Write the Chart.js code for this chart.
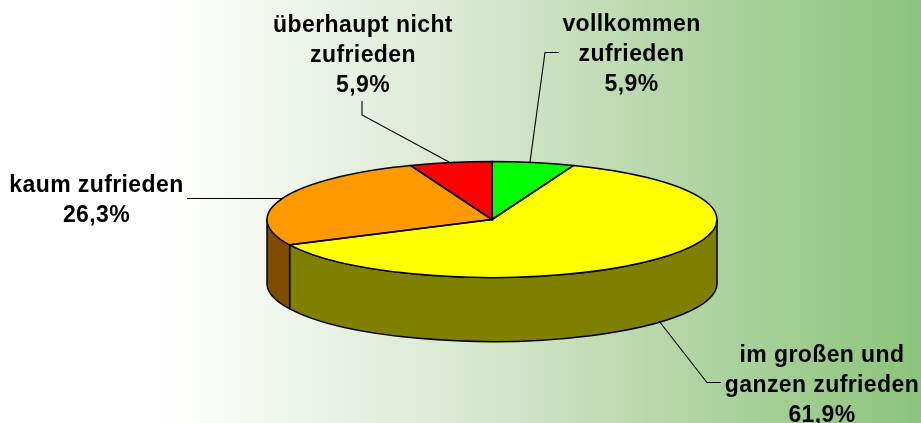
<!DOCTYPE html>
<html lang="de">
<head>
    <meta charset="UTF-8">
    <title>Zufriedenheit</title>
    <script src="https://cdn.jsdelivr.net/npm/chart.js"></script>
    <style>
        html, body { margin: 0; padding: 0; }
        body {
            width: 921px;
            height: 423px;
            overflow: hidden;
            background: linear-gradient(90deg, #ffffff 0, #ffffff 160px, #d6e7ce 480px, #afd4a2 700px, #8cc47c 921px);
        }
        canvas { display: block; }
    </style>
</head>
<body>
    <canvas id="myChart" width="921" height="423"></canvas>

    <script>
        var categories = ['vollkommen zufrieden', 'im großen und ganzen zufrieden', 'kaum zufrieden', 'überhaupt nicht zufrieden'];
        var shares = [5.9, 61.9, 26.3, 5.9];

        var topColors = ['#00ff00', '#ffff00', '#ff9900', '#ff0000'];
        var wallColors = ['#008000', '#808000', '#804d00', '#800000'];

        var FONT = 'bold 23px "Liberation Sans", Arial, sans-serif';
        var TILT = 58 / 225; // height of the ellipse against its width
        var DEPTH = 64;

        // text lines and leader lines, in the same order as categories
        var labelLines = [
            ['vollkommen', 'zufrieden'],
            ['im großen und', 'ganzen zufrieden'],
            ['kaum zufrieden'],
            ['überhaupt nicht', 'zufrieden']
        ];
        var labelX = [631.5, 822, 96.5, 363];
        var labelY = [31, 361.5, 192, 32];
        var leaders = [
            [[559, 52.5], [545, 52.5], [530, 162]],
            [[659, 321], [707, 382.5], [721, 382.5]],
            [[187, 198.5], [283, 198.5]],
            [[362, 101], [362, 115], [449, 162]]
        ];

        function sliceEdge(ctx, el) {
            ctx.save();
            ctx.translate(el.x, el.y);
            ctx.scale(1, TILT);
            ctx.beginPath();
            ctx.moveTo(0, 0);
            ctx.arc(0, 0, el.outerRadius, el.startAngle, el.endAngle);
            ctx.closePath();
            ctx.restore();
        }

        function wallEdge(ctx, el, from, to) {
            ctx.save();
            ctx.translate(el.x, el.y);
            ctx.scale(1, TILT);
            ctx.beginPath();
            ctx.arc(0, 0, el.outerRadius, from, to);
            ctx.arc(0, DEPTH / TILT, el.outerRadius, to, from, true);
            ctx.closePath();
            ctx.restore();
        }

        var tiltedPie = {
            id: 'tiltedPie',
            beforeDatasetsDraw: function (chart) {
                var ctx = chart.ctx;
                var arcs = chart.getDatasetMeta(0).data;
                ctx.lineWidth = 1.5;
                ctx.strokeStyle = '#000';
                arcs.forEach(function (el, i) {
                    var from = Math.max(el.startAngle, 0);
                    var to = Math.min(el.endAngle, Math.PI);
                    if (to <= from) return;
                    wallEdge(ctx, el, from, to);
                    ctx.fillStyle = wallColors[i];
                    ctx.fill();
                    ctx.stroke();
                });
                // squash the circle the library draws into the top face
                var c = arcs[0];
                ctx.save();
                ctx.translate(c.x, c.y);
                ctx.scale(1, TILT);
                ctx.translate(-c.x, -c.y);
            },
            afterDatasetsDraw: function (chart) {
                var ctx = chart.ctx;
                ctx.restore();
                ctx.lineWidth = 1.5;
                ctx.strokeStyle = '#000';
                chart.getDatasetMeta(0).data.forEach(function (el) {
                    sliceEdge(ctx, el);
                    ctx.stroke();
                });
            },
            afterDraw: function (chart) {
                var ctx = chart.ctx;
                ctx.save();
                ctx.lineWidth = 1.1;
                ctx.strokeStyle = '#000';
                leaders.forEach(function (pts) {
                    ctx.beginPath();
                    pts.forEach(function (p, j) {
                        if (j === 0) ctx.moveTo(p[0], p[1]);
                        else ctx.lineTo(p[0], p[1]);
                    });
                    ctx.stroke();
                });
                ctx.font = FONT;
                ctx.letterSpacing = '0.4px';
                ctx.fillStyle = '#000';
                ctx.textAlign = 'center';
                labelLines.forEach(function (lines, i) {
                    var all = lines.concat(shares[i].toFixed(1).replace('.', ',') + '%');
                    all.forEach(function (line, j) {
                        ctx.fillText(line, labelX[i], labelY[i] + j * 30);
                    });
                });
                ctx.restore();
            }
        };

        var ctx = document.getElementById('myChart').getContext('2d');
        var myChart = new Chart(ctx, {
            type: 'pie',
            data: {
                labels: categories,
                datasets: [{
                    data: shares,
                    backgroundColor: topColors,
                    borderWidth: 0
                }]
            },
            options: {
                responsive: false,
                animation: false,
                events: [],
                radius: 225,
                layout: { padding: { left: 63, top: 16 } },
                plugins: {
                    legend: { display: false },
                    tooltip: { enabled: false }
                }
            },
            plugins: [tiltedPie]
        });
    </script>
</body>
</html>
